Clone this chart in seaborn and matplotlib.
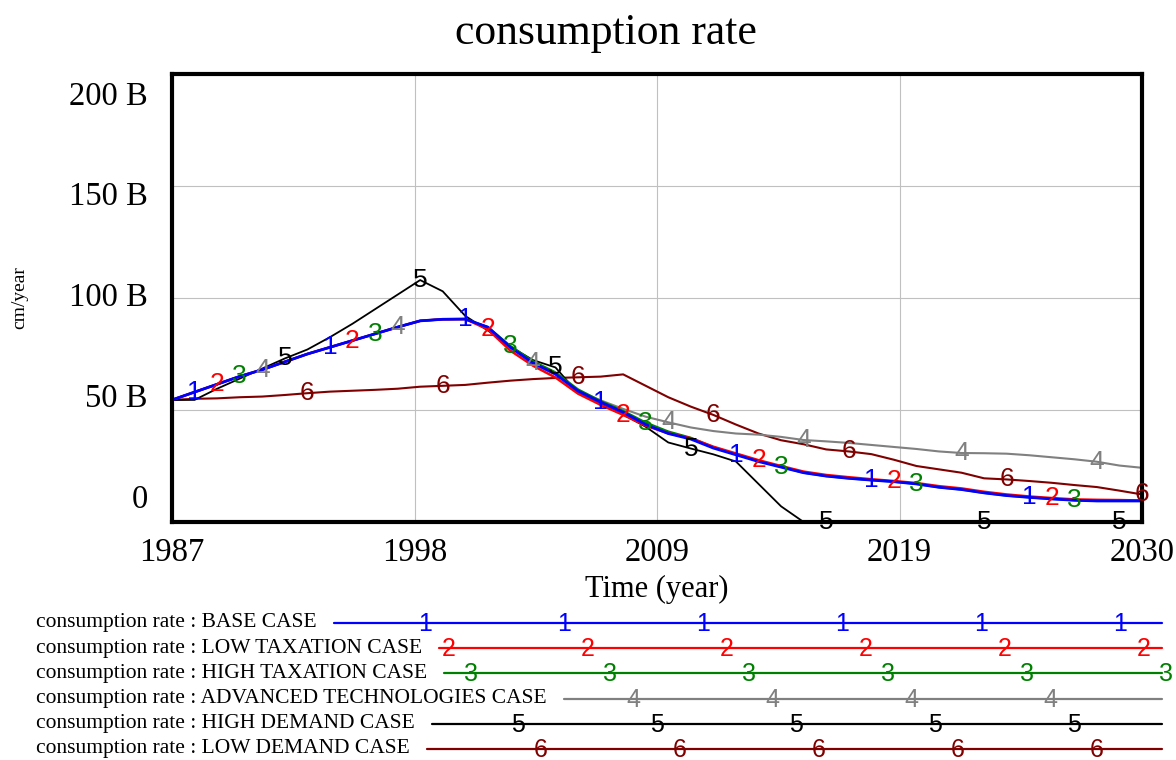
import numpy as np
import pandas as pd
import matplotlib
matplotlib.use('Agg')
import matplotlib.pyplot as plt
import matplotlib.transforms as mtransforms
import seaborn as sns

# Data (values in billions, cm/year)
years = list(range(1987, 2031))

base_case = [54.5, 58, 61.5, 65, 68, 71.5, 75, 78, 81, 84,
             87, 89.8, 90.5, 90.6, 87, 78, 71, 66, 58.5, 53.5,
             49, 43.5, 39.5, 37, 33, 30, 27, 24.5, 22, 20.5,
             19.5, 18.7, 18, 17, 15.5, 14.5, 13, 11.8, 11, 10.3,
             9.7, 9.4, 9.4, 9.4]
low_taxation = [54.5, 58, 61.5, 65, 68, 71.5, 75, 78, 81, 84,
                87, 89.8, 90.5, 90.6, 86, 76.5, 69.8, 64.5, 57.3, 52.3,
                47.8, 43, 39.6, 37.4, 33.6, 30.6, 27.6, 25, 22.5, 21,
                20, 19.1, 18.3, 17.4, 16, 15, 13.5, 12.3, 11.4, 10.7,
                10.1, 9.9, 9.8, 9.6]
high_taxation = [54.5, 58, 61.5, 65, 68, 71.5, 75, 78, 81, 84,
                 87, 89.8, 90.5, 90.6, 87, 78.6, 71.8, 66.8, 59.2, 54,
                 49.6, 44.4, 40.4, 37.6, 33.4, 30.2, 27.2, 24.6, 22, 20.5,
                 19.5, 18.7, 18, 17, 15.5, 14.5, 13, 11.8, 11, 10.3,
                 9.7, 9.4, 9.4, 9.4]
advanced_tech = [54.5, 58, 61.5, 65, 68, 71.5, 75, 78, 81, 84,
                 87, 89.8, 90.5, 90.6, 87, 78, 71, 66, 58.7, 54.3,
                 50.5, 47, 44.5, 42.2, 40.6, 39.5, 39, 38, 36.6, 36,
                 35.3, 34.4, 33.5, 32.6, 31.5, 30.8, 30.7, 30.5, 29.8, 28.9,
                 28, 26.9, 25.2, 24.2]
high_demand = [54.5, 54.5, 59.5, 64, 68.5, 73, 77, 82.5, 88.5, 95,
               101.5, 108, 103, 92, 85.5, 78.3, 72.3, 69, 57.5, 52.5,
               48, 42.5, 35.5, 32.8, 30.2, 27, 17, 7, 0, 0,
               0, 0, 0, 0, 0, 0, 0, 0, 0, 0,
               0, 0, 0, 0]
low_demand = [54.5, 55, 55.2, 55.7, 56, 56.7, 57.5, 58.2, 58.6, 59,
              59.5, 60.4, 60.8, 61.2, 62.2, 63.1, 63.8, 64.3, 64.6, 64.9,
              65.9, 60.8, 55.7, 51.5, 47.8, 43.5, 39.5, 36.5, 34.7, 32.4,
              31.5, 30.3, 27.8, 25, 23.5, 22, 19.5, 19, 18.3, 17.5,
              16.5, 15.6, 14, 12.3]

case_names = ['BASE CASE', 'LOW TAXATION CASE', 'HIGH TAXATION CASE',
              'ADVANCED TECHNOLOGIES CASE', 'HIGH DEMAND CASE', 'LOW DEMAND CASE']
case_values = [base_case, low_taxation, high_taxation, advanced_tech, high_demand, low_demand]
case_colors = ['#0000ff', '#ff0000', '#008000', '#808080', '#000000', '#800000']
case_widths = [2.0, 1.8, 1.6, 1.5, 1.3, 1.5]

# years where the numbered markers sit on each curve
marker_years = [
    [1988, 1994, 2000, 2006, 2012, 2018, 2025],
    [1989, 1995, 2001, 2007, 2013, 2019, 2026],
    [1990, 1996, 2002, 2008, 2014, 2020, 2027],
    [1991, 1997, 2003, 2009, 2015, 2022, 2028],
    [1992, 1998, 2004, 2010, 2016, 2023, 2029],
    [1993, 1999, 2005, 2011, 2017, 2024, 2030],
]

x_tick_labels = ['1987', '1998', '2009', '2019', '2030']
y_ticks = [0, 50, 100, 150, 200]
y_tick_labels = ['0', '50 B', '100 B', '150 B', '200 B']

sns.set_style('white')
plt.rcParams['font.family'] = ['Liberation Serif', 'DejaVu Serif']
plt.rcParams['text.color'] = 'black'
plt.rcParams['axes.labelcolor'] = 'black'
plt.rcParams['xtick.color'] = 'black'
plt.rcParams['ytick.color'] = 'black'
DIGIT_FONT = ['Liberation Sans', 'DejaVu Sans']

W, H = 1176, 760
fig = plt.figure(figsize=(W / 100, H / 100), dpi=100)
ax = fig.add_axes([172 / W, 1 - 522 / H, 970 / W, 448 / H])

df = pd.DataFrame({
    'year': np.tile(years, len(case_names)),
    'value': np.concatenate(case_values),
    'case': np.repeat(case_names, len(years)),
})

# draw last case first so the base case ends up on top
for i in reversed(range(len(case_names))):
    sub = df[df['case'] == case_names[i]]
    sns.lineplot(data=sub, x='year', y='value', color=case_colors[i],
                 linewidth=case_widths[i], ax=ax, legend=False, zorder=2 + (6 - i) * 0.01)

ax.set_xlim(1987, 2030)
ax.set_ylim(0, 200)
ax.set_xticks(np.linspace(1987, 2030, 5))
ax.set_xticklabels(x_tick_labels, fontsize=23.5)
ax.set_yticks(y_ticks)
ax.set_yticklabels([])
ax.tick_params(axis='x', length=0, pad=11.5)
ax.tick_params(axis='y', length=0)
ax.grid(True, color='#c0c0c0', linewidth=0.8)
ax.set_axisbelow(True)
for s in ax.spines.values():
    s.set_linewidth(3)
    s.set_color('black')
    s.set_zorder(5)

# Vensim spreads y labels slightly inward from the grid lines
ytrans = mtransforms.blended_transform_factory(ax.transAxes, ax.transData)
for v, lab in zip(y_ticks, y_tick_labels):
    ax.text(-0.025, 100 + (v - 100) * 0.9, lab, transform=ytrans,
            ha='right', va='center', fontsize=23.5)

ax.set_xlabel('Time (year)', fontsize=22, labelpad=5)
ax.set_ylabel('')
fig.text(20 / W, 1 - 298 / H, 'cm/year', rotation=90, ha='center', va='center', fontsize=14)
fig.text(606 / W, 1 - 33 / H, 'consumption rate', ha='center', va='center', fontsize=31.5)

# numbered markers on the curves
for i in range(len(case_names)):
    for yr in marker_years[i]:
        val = np.interp(yr, years, case_values[i])
        ax.text(yr, val, str(i + 1), color=case_colors[i], fontsize=19,
                family=DIGIT_FONT, ha='center', va='center', clip_on=False, zorder=6)

# legend block below the chart, laid out in pixel units
lax = fig.add_axes([0, 0, 1, 1], facecolor='none')
lax.set_xlim(0, W)
lax.set_ylim(H, 0)
lax.axis('off')
renderer = fig.canvas.get_renderer()
row_y0, row_step = 623, 25.2
line_end = 1162
for i, name in enumerate(case_names):
    ry = row_y0 + i * row_step
    t = lax.text(36, ry, 'consumption rate : ' + name, ha='left', va='center', fontsize=15.5)
    bb = t.get_window_extent(renderer)
    x0 = bb.x1 + 17
    lax.plot([x0, line_end], [ry, ry], color=case_colors[i], linewidth=1.6)
    mx = 425 + 23.2 * i
    while mx <= 1170:
        if mx >= x0 - 8:
            lax.text(mx, ry + 1, str(i + 1), color=case_colors[i], fontsize=18,
                     family=DIGIT_FONT, ha='center', va='center')
        mx += 139

fig.savefig('out.png', dpi=100)
